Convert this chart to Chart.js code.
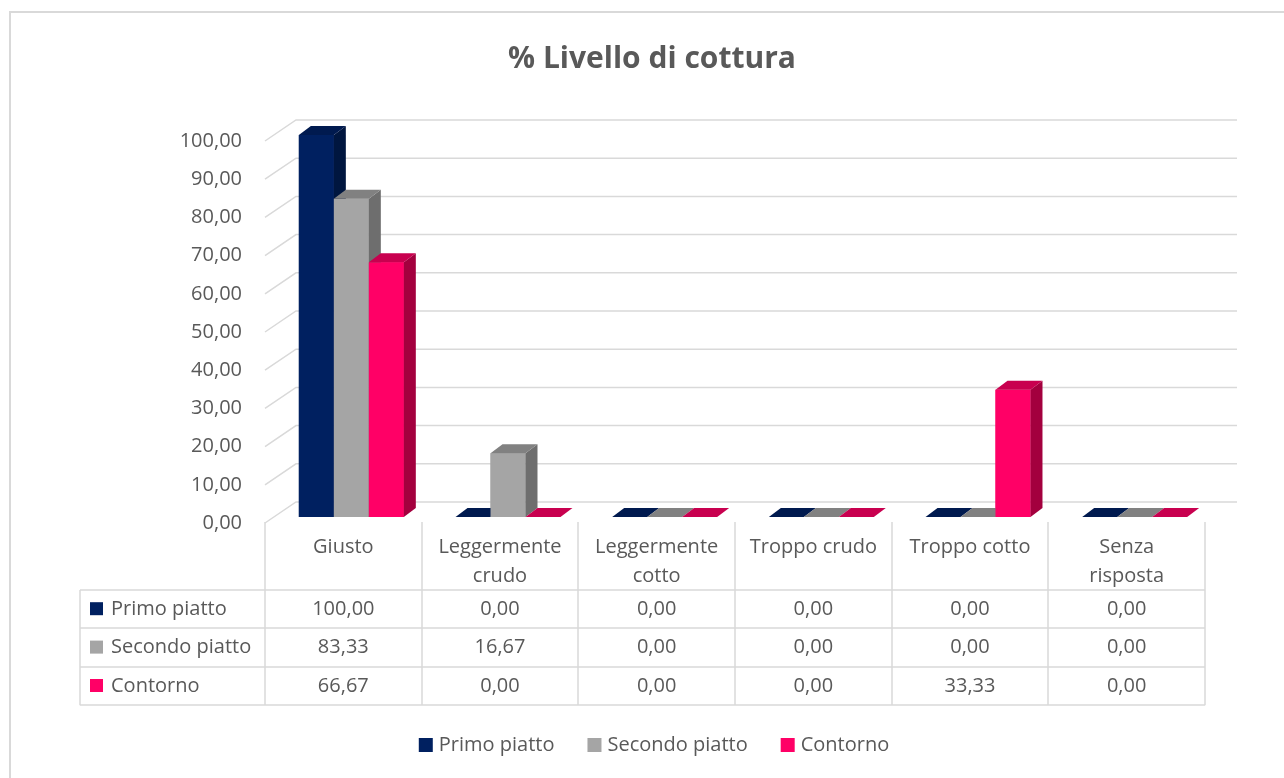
<!DOCTYPE html>
<html>
<head>
<meta charset="utf-8">
<title>% Livello di cottura</title>
<script src="https://cdn.jsdelivr.net/npm/chart.js@4.4.1/dist/chart.umd.min.js"></script>
<style>
  html, body { margin: 0; padding: 0; background: #fff; overflow: hidden; }
  #wrap { position: relative; width: 1284px; height: 778px; }
  #frame { position: absolute; left: 9px; top: 11px; width: 1320px; height: 820px; border: 2px solid #d9d9d9; }
  #chart { position: absolute; left: 0; top: 0; }
</style>
</head>
<body>
<div id="wrap">
  <div id="frame"></div>
  <canvas id="chart" width="1284" height="778"></canvas>
</div>
<script>
/******************** data ********************/
const categories = ["Giusto", ["Leggermente", "crudo"], ["Leggermente", "cotto"], "Troppo crudo", "Troppo cotto", ["Senza", "risposta"]];
const seriesNames = ["Primo piatto", "Secondo piatto", "Contorno"];
const primoPiatto = [100, 0, 0, 0, 0, 0];
const secondoPiatto = [83.33, 16.67, 0, 0, 0, 0];
const contorno = [66.67, 0, 0, 0, 33.33, 0];
const yMin = 0, yMax = 100, yStep = 10;

/******************** styles ********************/
const frontColors = ["#002060", "#a5a5a5", "#ff0066"];
const topColors = ["#001a4f", "#818181", "#c8004f"];
const sideColors = ["#00163f", "#6e6e6e", "#a3003e"];
const textColor = "#595959";
const lineColor = "#d9d9d9";
const FONT = "'Open Sans'";
const FONT_SIZE = 20;

const SHIFT = 8;          // bars sit a bit right of the table columns
const DEPTH_X = 12, DEPTH_Y = -9;   // bar depth
const WALL_X = 31, WALL_Y = -21;    // side wall depth

const fmt = v => v.toFixed(2).replace(".", ",");
const seriesData = [primoPiatto, secondoPiatto, contorno];

/******************** back wall gridlines ********************/
const wallPlugin = {
  id: "wall",
  beforeDatasetsDraw(chart) {
    const { ctx, chartArea: a, scales: { y } } = chart;
    const x0 = a.left - SHIFT;
    const x1 = x0 + WALL_X;
    const x2 = a.right + 24;
    ctx.save();
    ctx.strokeStyle = lineColor;
    ctx.lineWidth = 1.5;
    y.ticks.forEach(t => {
      const py = y.getPixelForValue(t.value);
      ctx.beginPath();
      ctx.moveTo(x0, py + 6);
      ctx.lineTo(x1, py + 6 + WALL_Y);
      ctx.lineTo(x2, py + 6 + WALL_Y);
      ctx.stroke();
    });
    ctx.restore();
  }
};

/******************** 3d bars, drawn left to right ********************/
const barPlugin = {
  id: "bars3d",
  afterDatasetsDraw(chart) {
    const ctx = chart.ctx;
    ctx.save();
    categories.forEach((c, ci) => {
      seriesData.forEach((vals, k) => {
        const bar = chart.getDatasetMeta(k).data[ci];
        bar.draw(ctx, chart.chartArea); // front face
        const p = bar.getProps(["x", "y", "base", "width"], true);
        const l = p.x - p.width / 2, r = p.x + p.width / 2;
        const t = Math.min(p.y, p.base), b = p.base;
        // side face
        ctx.fillStyle = sideColors[k];
        ctx.beginPath();
        ctx.moveTo(r, t);
        ctx.lineTo(r + DEPTH_X, t + DEPTH_Y);
        ctx.lineTo(r + DEPTH_X, b + DEPTH_Y);
        ctx.lineTo(r, b);
        ctx.closePath();
        ctx.fill();
        // top face
        ctx.fillStyle = topColors[k];
        ctx.beginPath();
        ctx.moveTo(l, t);
        ctx.lineTo(l + DEPTH_X, t + DEPTH_Y);
        ctx.lineTo(r + DEPTH_X, t + DEPTH_Y);
        ctx.lineTo(r, t);
        ctx.closePath();
        ctx.fill();
      });
    });
    ctx.restore();
  }
};

/******************** data table + legend ********************/
const tablePlugin = {
  id: "dataTable",
  afterDraw(chart) {
    const { ctx, chartArea: a, scales: { x } } = chart;
    const colW = (a.right - a.left) / categories.length;
    const left0 = a.left - SHIFT;
    const right0 = left0 + colW * categories.length;
    const tableLeft = left0 - 185;
    const top = a.bottom + 5;
    const headBottom = top + 68;
    const rowH = 38.4;
    const bottom = headBottom + rowH * seriesData.length;

    ctx.save();
    ctx.strokeStyle = lineColor;
    ctx.lineWidth = 1.5;
    ctx.beginPath();
    for (let i = 0; i <= categories.length; i++) {
      const xx = Math.round(left0 + i * colW);
      ctx.moveTo(xx, top);
      ctx.lineTo(xx, bottom);
    }
    ctx.moveTo(tableLeft, headBottom);
    ctx.lineTo(tableLeft, bottom);
    for (let r = 0; r <= seriesData.length; r++) {
      const yy = Math.round(headBottom + r * rowH);
      ctx.moveTo(tableLeft, yy);
      ctx.lineTo(right0, yy);
    }
    ctx.stroke();

    ctx.font = FONT_SIZE + "px " + FONT;
    ctx.fillStyle = textColor;
    ctx.textBaseline = "middle";
    ctx.textAlign = "center";
    categories.forEach((c, i) => {
      const cx = x.getPixelForValue(i) - SHIFT;
      const lines = Array.isArray(c) ? c : [c];
      lines.forEach((txt, k) => ctx.fillText(txt, cx, top + 25 + k * 29));
    });

    seriesData.forEach((vals, r) => {
      const cy = headBottom + rowH * (r + 0.5);
      ctx.fillStyle = frontColors[r];
      ctx.fillRect(tableLeft + 10, cy - 7, 13, 13);
      ctx.fillStyle = textColor;
      ctx.textAlign = "left";
      ctx.fillText(seriesNames[r], tableLeft + 31, cy);
      ctx.textAlign = "center";
      vals.forEach((v, i) => {
        ctx.fillText(fmt(v), x.getPixelForValue(i) - SHIFT, cy);
      });
    });

    // legend
    const box = 14, gap = 6, itemGap = 33;
    const widths = seriesNames.map(n => ctx.measureText(n).width);
    const total = widths.reduce((s, w) => s + box + gap + w, 0) + itemGap * (seriesNames.length - 1);
    let lx = 654 - total / 2;
    const ly = 745;
    ctx.textAlign = "left";
    seriesNames.forEach((n, k) => {
      ctx.fillStyle = frontColors[k];
      ctx.fillRect(lx, ly - 7, box, box);
      ctx.fillStyle = textColor;
      ctx.fillText(n, lx + box + gap, ly);
      lx += box + gap + widths[k] + itemGap;
    });
    ctx.restore();
  }
};

/******************** chart ********************/
Chart.defaults.font.family = FONT;
Chart.defaults.color = textColor;

const ctx1 = document.getElementById("chart").getContext("2d");
const myChart = new Chart(ctx1, {
  type: "bar",
  data: {
    labels: categories,
    datasets: seriesNames.map((name, k) => ({
      label: name,
      data: seriesData[k],
      backgroundColor: frontColors[k],
      borderWidth: 0,
      categoryPercentage: 0.67,
      barPercentage: 1.0,
    })),
  },
  options: {
    responsive: false,
    animation: false,
    events: [],
    layout: {
      padding: { left: 91, right: 71, top: 0, bottom: 0 },
    },
    plugins: {
      legend: { display: false },
      tooltip: { enabled: false },
      title: {
        display: true,
        text: "% Livello di cottura",
        color: textColor,
        font: { size: 30, weight: "bold", family: FONT },
        padding: { top: 41, bottom: 58 },
      },
    },
    scales: {
      x: {
        grid: { display: false },
        border: { display: false },
        ticks: { display: false },
        afterFit: scale => { scale.height = 261; },
      },
      y: {
        min: yMin,
        max: yMax,
        grid: { display: false },
        border: { display: false },
        ticks: {
          stepSize: yStep,
          padding: 23,
          labelOffset: 6,
          color: textColor,
          font: { size: FONT_SIZE },
          callback: v => fmt(v),
        },
        afterFit: scale => { scale.width = 182; },
      },
    },
  },
  plugins: [wallPlugin, barPlugin, tablePlugin],
});
</script>
</body>
</html>
